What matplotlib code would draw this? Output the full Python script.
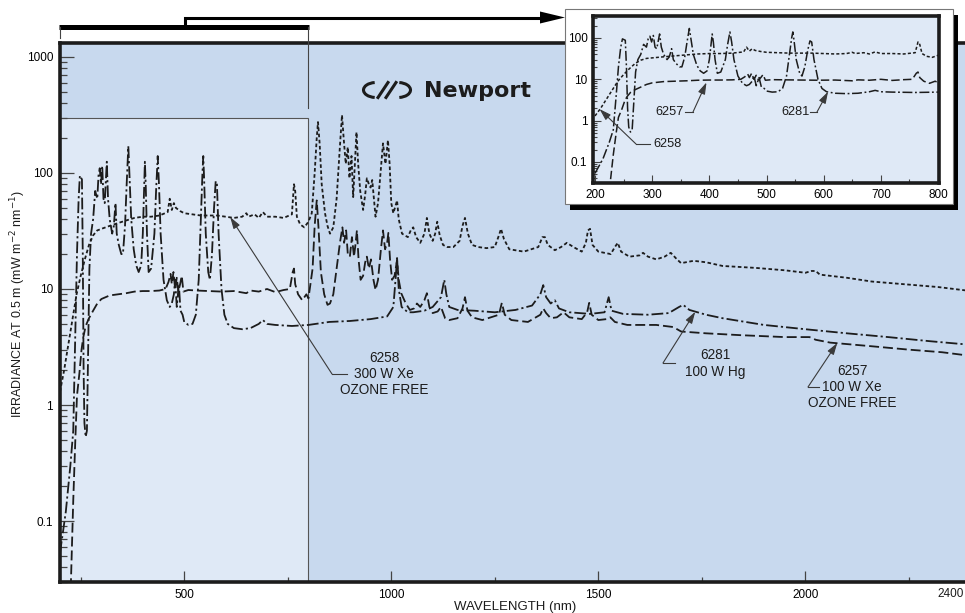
import matplotlib
matplotlib.use("Agg")
import matplotlib.pyplot as plt
from matplotlib.patches import Rectangle, Arc, Polygon
from matplotlib.lines import Line2D

plt.rcParams['font.family'] = ['Liberation Sans', 'DejaVu Sans']

# ---- spectral irradiance at 0.5 m (mW m^-2 nm^-1) ----
# 6281, 100 W Hg lamp
hg_nm = [200, 214, 225, 232, 237, 241, 245, 248, 250, 253, 255, 257, 259, 262, 265, 268, 271, 275,
         280, 285, 290, 293, 296, 299, 302, 305, 308, 311, 313, 316, 320, 326, 330, 334, 337, 342,
         348, 352, 357, 361, 365, 368, 372, 378, 384, 390, 396, 400, 403, 405, 407, 410, 414, 420,
         428, 432, 436, 439, 443, 450, 458, 465, 470, 475, 478, 482, 487, 491, 496, 500, 510, 520,
         528, 535, 540, 544, 546, 548, 552, 558, 562, 567, 572, 576, 579, 583, 590, 597, 605, 620,
         640, 660, 680, 690, 700, 720, 760, 800, 850, 900, 950, 990, 1005, 1011, 1014, 1018, 1025,
         1040, 1053, 1080, 1100, 1120, 1128, 1133, 1140, 1160, 1200, 1250, 1300, 1340, 1360, 1367,
         1374, 1385, 1395, 1405, 1430, 1480, 1515, 1525, 1532, 1560, 1620, 1670, 1695, 1705, 1720,
         1760, 1800, 1900, 2000, 2100, 2200, 2300, 2400]
hg_irr = [0.053, 0.12, 0.3, 0.6, 4, 20, 60, 95, 92, 88, 20, 2, 0.7, 0.53, 0.6, 3, 15, 30,
          40, 70, 60, 95, 110, 80, 115, 60, 55, 90, 125, 60, 40, 30, 35, 55, 30, 24,
          20, 20, 35, 80, 170, 90, 40, 22, 16, 14, 16, 30, 70, 125, 80, 30, 14, 15,
          30, 70, 140, 80, 30, 12, 8, 7, 7.5, 9, 12, 7, 11, 6.5, 6, 5.2, 4.9, 5,
          6, 12, 40, 100, 140, 90, 30, 14, 12, 20, 50, 85, 80, 30, 10, 6, 5, 4.6,
          4.5, 4.6, 5.0, 5.4, 5.0, 4.9, 4.8, 4.9, 5.2, 5.3, 5.5, 5.8, 7, 13, 18.5, 10, 7,
          6.3, 6.3, 6.5, 7, 8.5, 12, 9, 7, 6.6, 6.5, 6.3, 6.6, 7.2, 9, 10.8,
          8.5, 7.5, 8, 6.8, 6.3, 6.1, 6.3, 8.5, 6.5, 6.1, 6.0, 6.2, 7.0, 7.3, 6.6,
          6.0, 5.6, 4.9, 4.5, 4.15, 3.85, 3.55, 3.3]

# 6258, 300 W Xe ozone free
xe300_nm = [200, 210, 220, 230, 240, 250, 260, 270, 280, 290, 300, 320, 340, 360, 380, 400, 420,
            440, 460, 465, 470, 475, 480, 490, 500, 520, 540, 560, 580, 600, 620, 640, 650, 655,
            670, 680, 690, 700, 720, 740, 760, 765, 768, 772, 780, 790, 800, 808, 815, 820, 823,
            827, 832, 840, 846, 852, 860, 868, 875, 881, 885, 890, 895, 899, 904, 908, 912, 916,
            920, 925, 932, 937, 941, 946, 950, 954, 958, 962, 968, 975, 980, 986, 992, 996, 1000,
            1005, 1010, 1014, 1018, 1026, 1040, 1047, 1053, 1060, 1070, 1080, 1086, 1092, 1100,
            1106, 1111, 1117, 1125, 1135, 1150, 1165, 1172, 1178, 1185, 1195, 1210, 1230, 1250,
            1260, 1265, 1272, 1285, 1320, 1355, 1365, 1371, 1378, 1395, 1410, 1424, 1440, 1460,
            1470, 1475, 1480, 1486, 1500, 1530, 1540, 1547, 1555, 1575, 1600, 1608, 1620, 1640,
            1660, 1675, 1690, 1700, 1730, 1760, 1800, 1880, 1950, 2000, 2015, 2025, 2035, 2100,
            2160, 2250, 2320, 2400]
xe300_irr = [1.3, 2.0, 3.3, 5.5, 9, 13, 18, 24, 29, 32, 33, 35, 37, 39, 41, 42, 42,
             43, 46, 60, 48, 55, 50, 47, 45, 44, 43, 43, 43, 42, 41, 42, 45, 42,
             44, 41, 46, 42, 42, 41, 44, 80, 70, 42, 36, 34, 38, 45, 100, 200, 275,
             180, 80, 45, 35, 30, 34, 60, 150, 316, 200, 120, 167, 90, 140, 62, 120, 225,
             120, 70, 48, 65, 90, 80, 75, 87, 60, 42, 55, 110, 180, 120, 192, 120, 55,
             45, 52, 58, 40, 30, 28, 32, 34, 28, 25, 30, 41, 30, 26,
             30, 38, 29, 24, 23, 23, 26, 35, 41, 30, 24, 23, 22.5, 23,
             29, 33, 27, 22, 21, 23, 28, 28, 24, 21.6, 23, 25, 23, 21,
             25, 32, 33, 24, 21, 20, 23, 25, 21, 19, 19.5, 20.5, 19, 18,
             19, 20.5, 18, 16.7, 17.5, 17, 15.8, 15.2, 14.5, 13.8, 14.3, 14.3, 13.3, 12.5,
             11.6, 10.9, 10.4, 9.6]

# 6257, 100 W Xe ozone free
xe100_nm = [225, 232, 237, 241, 247, 252, 256, 262, 270, 280, 290, 300, 320, 340, 360, 380, 400,
            420, 440, 455, 462, 467, 470, 474, 478, 482, 486, 490, 494, 498, 510, 530, 560, 590,
            620, 650, 660, 680, 700, 720, 740, 755, 762, 765, 768, 775, 785, 795, 800, 810, 815,
            820, 824, 830, 838, 846, 852, 860, 868, 876, 882, 886, 891, 895, 900, 905, 910, 914,
            917, 921, 926, 932, 937, 941, 946, 951, 957, 962, 968, 975, 980, 985, 990, 993, 997,
            1002, 1008, 1014, 1018, 1024, 1035, 1045, 1055, 1062, 1070, 1080, 1086, 1092, 1100,
            1112, 1120, 1130, 1140, 1160, 1172, 1178, 1184, 1195, 1220, 1260, 1267, 1274, 1290,
            1330, 1360, 1367, 1374, 1385, 1400, 1416, 1430, 1460, 1473, 1478, 1484, 1500, 1520,
            1529, 1540, 1570, 1640, 1681, 1700, 1760, 1843, 1950, 2010, 2025, 2060, 2164, 2250,
            2330, 2400]
xe100_irr = [0.02, 0.15, 0.5, 1.2, 1.9, 3, 3.8, 4.8, 5.6, 6.5, 7.5, 8.2, 8.8, 9.0, 9.2, 9.5, 9.6,
             9.6, 9.7, 10, 11.5, 13.5, 11, 14, 10, 12.5, 9.5, 11, 13, 9.5, 9.8, 9.7, 9.6, 9.5,
             9.6, 9.2, 9.7, 9.5, 10, 9.4, 9.8, 10, 14, 15, 11, 9, 8, 9, 8.3, 15, 35,
             58, 35, 14, 9, 7.3, 7.5, 9, 15, 25, 34, 25, 32, 20, 19, 28, 19, 25,
             32, 18, 12, 13, 17, 19, 15, 18, 12, 9.8, 12, 22, 32, 22, 25, 30.5, 18,
             12, 13, 17.8, 12, 9.2, 7.5, 6.6, 6.8, 7.5, 7, 8, 9.2, 7, 6.2,
             6.4, 7, 5.6, 5.4, 5.6, 6.8, 8.5, 6.5, 5.7, 5.4, 6, 7.6, 6, 5.4,
             5.2, 6, 6.8, 6.2, 5.6, 5.7, 6.3, 5.7, 5.5, 6.3, 7.6, 6, 5.4, 5.5,
             5.7, 5.2, 4.9, 4.9, 4.7, 4.3, 4.15, 4.0, 3.85, 3.85, 3.65, 3.45, 3.2, 3.0,
             2.85, 2.65]

y_ticks = [0.1, 1, 10, 100, 1000]
y_ticklabels = ['0.1', '1', '10', '100', '1000']
x_ticks = [500, 1000, 1500, 2000]
x_ticklabels = ['500', '1000', '1500', '2000']
x_end_label = '2400'
inset_x_ticks = [200, 300, 400, 500, 600, 700, 800]
inset_y_ticks = [0.1, 1, 10, 100]
inset_y_ticklabels = ['0.1', '1', '10', '100']

DARK_BG = '#c8d9ee'
LIGHT_BG = '#dfe9f6'
INK = '#1c1c1c'

series = [
    (xe300_nm, xe300_irr, dict(dashes=(2.0, 1.4))),
    (xe100_nm, xe100_irr, dict(dashes=(5.5, 2.2))),
    (hg_nm, hg_irr, dict(dashes=(6.5, 1.7, 1.2, 1.7))),
]

W, H = 965, 613
fig = plt.figure(figsize=(W / 100, H / 100), dpi=100)
fig.patch.set_facecolor('white')


def px_rect(left, top, right, bottom):
    return [left / W, 1 - bottom / H, (right - left) / W, (bottom - top) / H]


def minor_log(lo, hi):
    out = []
    d = 0.01
    while d < hi * 10:
        for m in range(2, 10):
            v = m * d
            if lo <= v <= hi:
                out.append(v)
        d *= 10
    return out


# ---------------- main spectrum axes ----------------
ax = fig.add_axes(px_rect(60, 43, 971, 582), zorder=0)
ax.set_facecolor(DARK_BG)
ax.set_xlim(200, 2400)
ax.set_ylim(0.0298, 1320)
ax.set_yscale('log')

# highlighted 200-800 nm region shown enlarged in the inset
ax.add_patch(Rectangle((200, 0.0298), 600, 300 - 0.0298, facecolor=LIGHT_BG,
                       edgecolor='#555555', lw=0.8, zorder=0.5))

for nm, irr, st in series:
    ax.plot(nm, irr, color=INK, lw=1.3, zorder=2, **st)

ax.set_yticks(y_ticks)
ax.set_yticklabels(y_ticklabels)
ax.set_yticks(minor_log(0.0298, 1320), minor=True)
ax.yaxis.set_minor_formatter(plt.NullFormatter())
ax.set_xticks(x_ticks)
ax.set_xticklabels(x_ticklabels)
ax.set_xticks([250, 750, 1250, 1750, 2250], minor=True)

ax.tick_params(axis='y', which='major', direction='in', length=10, width=0.9,
               color='#444444', labelsize=8.5, pad=5)
ax.tick_params(axis='y', which='minor', direction='in', length=5, width=0.9, color='#444444')
ax.tick_params(axis='x', which='major', direction='in', length=8, width=0.9,
               color='#444444', labelsize=8.5, pad=5)
ax.tick_params(axis='x', which='minor', direction='in', length=3.6, width=0.9, color='#444444')
for side in ('left', 'bottom', 'top'):
    ax.spines[side].set_linewidth(2.6)
    ax.spines[side].set_color(INK)
ax.spines['right'].set_visible(False)

# ---------------- overlay in figure pixels ----------------
ov = fig.add_axes([0, 0, 1, 1], zorder=1)
ov.set_xlim(0, W)
ov.set_ylim(H, 0)
ov.axis('off')
ov.patch.set_alpha(0)
P = ov.transData

# end-of-axis wavelength label, kept inside the figure edge
ov.text(964, 594, x_end_label, ha='right', va='center', fontsize=8.5, color=INK)

# bracket over the highlighted range and arrow to the inset
ov.plot([59, 309], [27, 27], color='black', lw=3.6, solid_capstyle='butt')
ov.plot([60, 60], [27, 38], color='#444444', lw=0.8)
ov.plot([308, 308], [27, 108], color='#444444', lw=0.8)
ov.plot([184.5, 184.5, 546], [27, 17.5, 17.5], color='black', lw=2.2,
        solid_joinstyle='miter', solid_capstyle='butt')
ov.add_patch(Polygon([(540, 11.5), (565, 17.5), (540, 23.5)], closed=True,
                     facecolor='black', edgecolor='none'))

# axis titles
ov.text(18, 304, 'IRRADIANCE AT 0.5 m (mW m$^{-2}$ nm$^{-1}$)', rotation=90,
        ha='center', va='center', fontsize=9.0, color=INK)
ov.text(515, 607, 'WAVELENGTH (nm)', ha='center', va='center', fontsize=9.5, color=INK)

# Newport logo
ov.add_patch(Arc((376, 90), 25, 15, theta1=100, theta2=260, lw=2.2, color=INK))
ov.add_patch(Arc((398, 90), 25, 15, theta1=-80, theta2=80, lw=2.2, color=INK))
ov.plot([378, 388], [97.5, 82.5], color=INK, lw=2.2)
ov.plot([386, 396], [97.5, 82.5], color=INK, lw=2.2)
ov.text(424, 97, 'Newport', fontsize=16, fontweight='bold', family='DejaVu Sans',
        ha='left', va='baseline', color=INK)

# main-plot callouts
ov.text(384, 374, '6258\n300 W Xe\nOZONE FREE', ha='center', va='center',
        fontsize=9.8, linespacing=1.2, color=INK)
ov.text(715, 363.5, '6281\n100 W Hg', ha='center', va='center',
        fontsize=9.8, linespacing=1.25, color=INK)
ov.text(852, 387, '6257\n100 W Xe\nOZONE FREE', ha='center', va='center',
        fontsize=9.8, linespacing=1.2, color=INK)

arrow_kw = dict(arrowstyle='-|>,head_length=0.7,head_width=0.22', color='#3a3a3a',
                lw=0.8, shrinkA=0, shrinkB=0)
for seg, tip in [(((347, 374), (332, 374)), (611, 41.7)),
                 (((675, 363), (663, 363)), (1734, 6.35)),
                 (((819, 387), (808, 387)), (2077, 3.42))]:
    (x0, y0), (x1, y1) = seg
    ov.plot([x0, x1], [y0, y1], color='#3a3a3a', lw=0.8)
    ax.annotate('', xy=tip, xycoords='data', xytext=(x1, H - y1),
                textcoords='figure pixels', arrowprops=arrow_kw, zorder=5)

# inset frame: drop shadow + white card
ov.add_patch(Rectangle((570, 15), 388, 195, facecolor='black', edgecolor='none'))
ov.add_patch(Rectangle((565, 9), 388, 195, facecolor='white', edgecolor='#777777', lw=0.8))

# ---------------- inset 200-800 nm ----------------
ins = fig.add_axes(px_rect(593, 16, 939, 183), zorder=3)
ins.set_facecolor(LIGHT_BG)
ins.set_xlim(196.5, 801.7)
ins.set_ylim(0.031, 340)
ins.set_yscale('log')
for nm, irr, st in series:
    ins.plot(nm, irr, color=INK, lw=1.1, zorder=2, **st)
ins.set_xticks(inset_x_ticks)
ins.set_xticks([250, 350, 450, 550, 650, 750], minor=True)
ins.set_yticks(inset_y_ticks)
ins.set_yticklabels(inset_y_ticklabels)
ins.set_yticks(minor_log(0.031, 340), minor=True)
ins.yaxis.set_minor_formatter(plt.NullFormatter())
ins.tick_params(which='major', direction='in', length=6, width=0.8, color='#444444',
                labelsize=8.5, pad=4)
ins.tick_params(which='minor', direction='in', length=3, width=0.8, color='#444444')
for side in ins.spines.values():
    side.set_linewidth(2.6)
    side.set_color(INK)

# inset callouts
for label, (tx, ty), seg, tip in [
        ('6257', (670, 112), ((685, 112), (693, 112)), (395, 8.4)),
        ('6281', (795, 112), ((810, 112), (817, 112)), (607.6, 5.0)),
        ('6258', (668, 144), ((650, 144), (636, 144)), (208, 1.9))]:
    ins.text(tx, ty, label, transform=P, ha='center', va='center', fontsize=9.2,
             color=INK, clip_on=False, zorder=6)
    (x0, y0), (x1, y1) = seg
    ins.add_line(Line2D([x0, x1], [y0, y1], transform=P, color='#3a3a3a', lw=0.8,
                        clip_on=False, zorder=6))
    ins.annotate('', xy=tip, xycoords='data', xytext=(x1, H - y1),
                 textcoords='figure pixels', arrowprops=arrow_kw, zorder=6)

fig.savefig('out.png', dpi=100)
